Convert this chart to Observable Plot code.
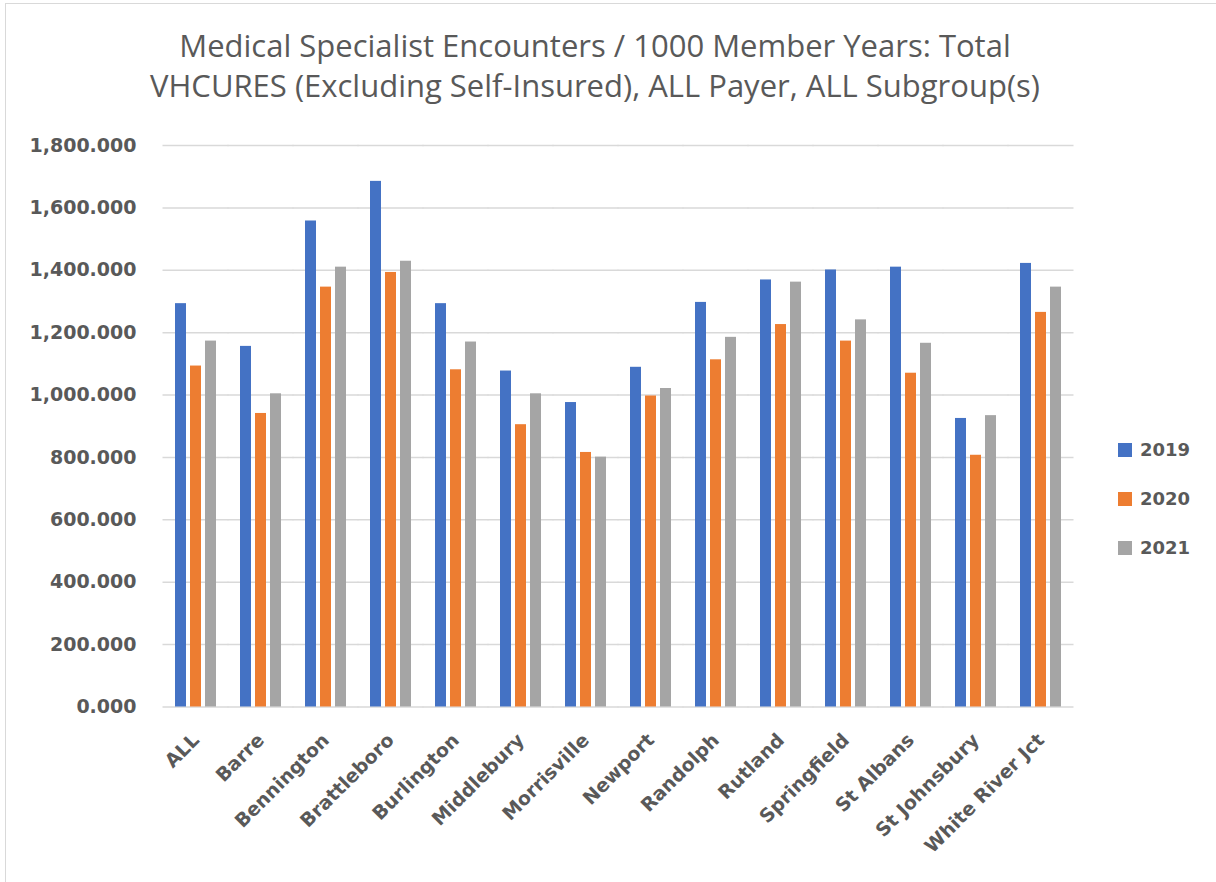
<!DOCTYPE html>
<html>
<head>
<meta charset="utf-8">
<script src="https://cdn.jsdelivr.net/npm/d3@7"></script>
<script src="https://cdn.jsdelivr.net/npm/@observablehq/plot@0.6"></script>
<style>
  html, body { margin: 0; padding: 0; background: #fff; }
  #wrap { position: relative; width: 1216px; height: 882px; background: #fff; overflow: hidden; }
  #frame { position: absolute; left: 5px; top: 3px; right: 0; bottom: 0; border-left: 1.5px solid #d9d9d9; border-top: 1.5px solid #d9d9d9; }
  #title { position: absolute; left: 0; width: 1190px; top: 25px; text-align: center; font-family: "Open Sans", sans-serif; font-size: 31px; line-height: 40px; color: #595959; }
  #chart { position: absolute; left: 0; top: 120px; }
  #legend { position: absolute; left: 1118px; top: 425px; font-family: "DejaVu Sans", sans-serif; font-weight: bold; font-size: 18px; color: #595959; }
  #legend .row { display: flex; align-items: center; height: 49px; }
  #legend .sw { width: 14px; height: 14px; margin-right: 8px; }
</style>
</head>
<body>
<div id="wrap">
  <div id="frame"></div>
  <div id="title">Medical Specialist Encounters / 1000 Member Years: Total<br>VHCURES (Excluding Self-Insured), ALL Payer, ALL Subgroup(s)</div>
  <div id="chart"></div>
  <div id="legend"></div>
</div>
<script>
const locations = ["ALL", "Barre", "Bennington", "Brattleboro", "Burlington", "Middlebury", "Morrisville", "Newport", "Randolph", "Rutland", "Springfield", "St Albans", "St Johnsbury", "White River Jct"];
const years = ["2019", "2020", "2021"];
const values2019 = [1293, 1156, 1558, 1685, 1293, 1077, 976, 1089, 1297, 1369, 1401, 1410, 925, 1422];
const values2020 = [1093, 941, 1346, 1393, 1081, 905, 816, 997, 1113, 1226, 1173, 1070, 807, 1265];
const values2021 = [1173, 1004, 1410, 1429, 1170, 1004, 801, 1021, 1185, 1362, 1241, 1166, 934, 1346];
const colors = ["#4472C4", "#ED7D31", "#A5A5A5"];
const yTicks = [0, 200, 400, 600, 800, 1000, 1200, 1400, 1600, 1800];

const series = [values2019, values2020, values2021];
const data = locations.flatMap((loc, i) => years.map((year, j) => ({loc, year, value: series[j][i]})));

const chart = Plot.plot({
  width: 1216,
  height: 762,
  marginLeft: 160,
  marginRight: 140,
  marginTop: 25,
  marginBottom: 175.5,
  style: {fontFamily: "DejaVu Sans, sans-serif", background: "transparent"},
  fx: {domain: locations, paddingInner: 0.37, paddingOuter: 0.185, label: null},
  x: {domain: years, paddingInner: 0.27, paddingOuter: 0, axis: null},
  y: {domain: [0, 1800], label: null},
  color: {domain: years, range: colors},
  marks: [
    Plot.ruleY(yTicks, {stroke: "#d9d9d9", strokeWidth: 1.5, insetLeft: -12.5, insetRight: -12.5}),
    Plot.barY(data, {fx: "loc", x: "year", y: "value", fill: "year"}),
    Plot.axisY(yTicks, {tickFormat: d3.format(",.3f"), tickSize: 0, tickPadding: 39, fontSize: 19, fontWeight: "bold", color: "#595959", label: null}),
    Plot.axisFx({anchor: "bottom", tickRotate: -45, tickSize: 0, tickPadding: 30, fontSize: 19, fontWeight: "bold", color: "#595959", label: null})
  ]
});
document.getElementById("chart").appendChild(chart);

const legend = document.getElementById("legend");
years.forEach((y, i) => {
  const row = document.createElement("div");
  row.className = "row";
  const sw = document.createElement("div");
  sw.className = "sw";
  sw.style.background = colors[i];
  const t = document.createElement("span");
  t.textContent = y;
  row.appendChild(sw);
  row.appendChild(t);
  legend.appendChild(row);
});
</script>
</body>
</html>
